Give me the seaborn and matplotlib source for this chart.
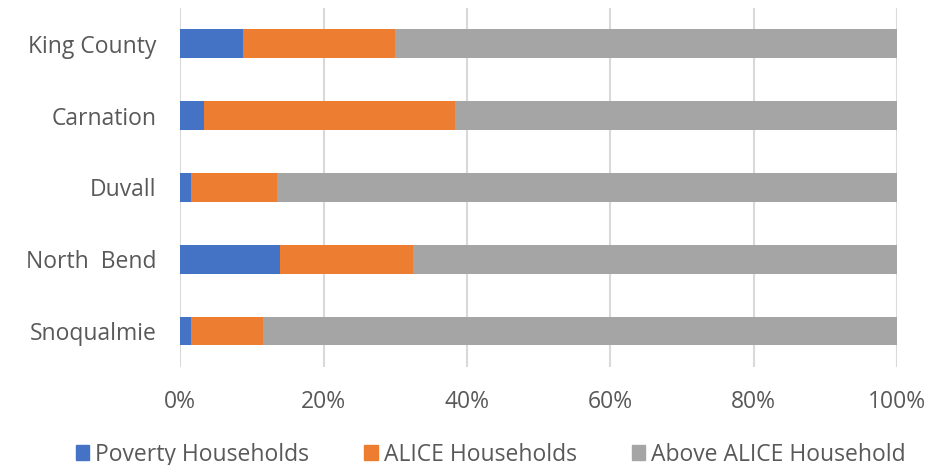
import matplotlib
matplotlib.use("Agg")
import matplotlib.pyplot as plt
import matplotlib.patches as mpatches
import numpy as np
import pandas as pd
import seaborn as sns

# Household share by income status (percent)
places = ["King County", "Carnation", "Duvall", "North  Bend", "Snoqualmie"]
poverty = [8.7, 3.3, 1.5, 13.9, 1.5]
alice = [21.2, 35.1, 12.0, 18.6, 10.0]
above = [70.1, 61.6, 86.5, 67.5, 88.5]
series = ["Poverty Households", "ALICE Households", "Above ALICE Household"]
colors = ["#4472C4", "#ED7D31", "#A5A5A5"]
xticks = [0, 20, 40, 60, 80, 100]

sns.set_theme(style="white")
plt.rcParams["font.family"] = ["Open Sans", "DejaVu Sans"]
text_color = "#595959"
fs = 16.5

df = pd.DataFrame({"place": places, "poverty": poverty, "alice": alice, "above": above})
df["c1"] = df["poverty"]
df["c2"] = df["poverty"] + df["alice"]
df["c3"] = df["c2"] + df["above"]

fig = plt.figure(figsize=(9.49, 4.65), dpi=100)
ax = fig.add_axes([0.19, 0.211, 0.755, 0.772])

# stacked bars: draw cumulative totals back to front
for col, color in zip(["c3", "c2", "c1"], colors[::-1]):
    sns.barplot(data=df, x=col, y="place", order=places, color=color,
                width=0.4, saturation=1, ax=ax, zorder=3, linewidth=0)

ax.set_xlim(0, 100)
ax.set_ylim(len(places) - 0.5, -0.5)
ax.set_xticks(xticks)
ax.set_xticklabels([f"{t}%" for t in xticks])
ax.set_xlabel("")
ax.set_ylabel("")
ax.grid(axis="x", color="#D9D9D9", linewidth=1.5, zorder=0)
ax.grid(axis="y", visible=False)
for s in ax.spines.values():
    s.set_visible(False)
ax.tick_params(axis="x", length=0, pad=17, labelsize=fs, labelcolor=text_color)
ax.tick_params(axis="y", length=0, pad=17, labelsize=fs, labelcolor=text_color)

handles = [mpatches.Patch(color=c, label=l) for c, l in zip(colors, series)]
fig.legend(handles=handles, loc="lower center", ncol=3, bbox_to_anchor=(0.517, -0.048),
           frameon=False, fontsize=fs, labelcolor=text_color,
           handlelength=0.6, handleheight=0.6, handletextpad=0.25, columnspacing=2.4)

fig.savefig("out.png", dpi=100)
